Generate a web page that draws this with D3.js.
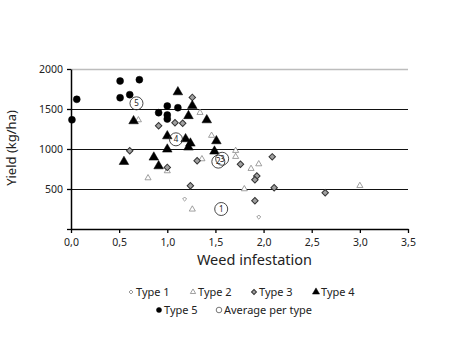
<!DOCTYPE html>
<html>
<head>
<meta charset="utf-8">
<script src="https://cdn.jsdelivr.net/npm/d3@7"></script>
<style>
  body { margin: 0; background: #fff; }
  text { font-family: "Noto Sans", "Open Sans", sans-serif; fill: #222; }
</style>
</head>
<body>
<div id="chart"></div>
<script>
// data: [weed infestation, yield]
var type1 = [[1.18, 375], [1.95, 150]];
var type2 = [[0.70, 1362], [0.80, 637], [1.00, 725], [1.34, 1454], [1.46, 1168], [1.36, 875],
             [1.71, 979], [1.71, 904], [1.95, 812], [1.87, 754], [1.80, 500], [3.00, 541], [1.26, 246]];
var type3 = [[0.61, 979], [0.91, 1291], [1.08, 1329], [1.16, 1321], [1.26, 1645], [1.00, 770],
             [1.31, 854], [1.76, 810], [2.09, 902], [1.93, 662], [1.91, 616], [1.24, 541],
             [2.11, 516], [1.91, 354], [2.64, 454]];
var type4 = [[0.65, 1350], [1.00, 1162], [1.00, 996], [0.55, 841], [0.86, 896], [0.91, 787],
             [1.11, 1712], [1.26, 1541], [1.22, 1414], [1.41, 1362], [1.19, 1125], [1.24, 1071],
             [1.22, 1021], [1.51, 1100], [1.49, 971]];
var type5 = [[0.01, 1365], [0.06, 1621], [0.51, 1850], [0.71, 1866], [0.51, 1641], [0.61, 1679],
             [0.91, 1454], [1.00, 1537], [1.00, 1425], [1.00, 1375], [1.11, 1516]];
var averages = [[1.56, 250, "1"], [1.53, 842, "2"], [1.57, 878, "3"], [1.09, 1121, "4"], [0.68, 1571, "5"]];
var xTicks = [0, 0.5, 1, 1.5, 2, 2.5, 3, 3.5];
var yTicks = [500, 1000, 1500, 2000];
var gridValues = [500, 1000, 1500, 2000];

var margin = {top: 69, right: 42, bottom: 109, left: 71},
    width = 450 - margin.left - margin.right,
    height = 338 - margin.top - margin.bottom;

var svg = d3.select("#chart")
  .append("svg")
    .attr("width", 450)
    .attr("height", 338)
  .append("g")
    .attr("transform", "translate(" + margin.left + "," + margin.top + ")");

var x = d3.scaleLinear().domain([0, 3.5]).range([0, width]);
var y = d3.scaleLinear().domain([0, 2000]).range([height, 0]);

// gridlines
svg.append("g")
  .selectAll("line")
  .data(gridValues)
  .enter()
  .append("line")
    .attr("x1", 0).attr("x2", width)
    .attr("y1", function (d) { return y(d) + 0.5; })
    .attr("y2", function (d) { return y(d) + 0.5; })
    .attr("stroke", function (d) { return d == 2000 ? "#bdbdbd" : "#111"; })
    .attr("stroke-width", function (d) { return d == 2000 ? 1.5 : 1; });

// axes
var xAxis = svg.append("g")
  .attr("transform", "translate(0," + height + ")")
  .call(d3.axisBottom(x).tickValues(xTicks).tickSize(4).tickSizeOuter(0)
    .tickFormat(function (d) { return d3.format(".1f")(d).replace(".", ","); }));
var yAxis = svg.append("g")
  .call(d3.axisLeft(y).tickValues([0].concat(yTicks)).tickSize(4).tickSizeOuter(0)
    .tickFormat(function (d) { return d == 0 ? "" : d; }));

[xAxis, yAxis].forEach(function (a) {
  a.select(".domain").attr("stroke", "#000").attr("stroke-width", 1.5);
  a.selectAll(".tick line").attr("stroke", "#000").attr("stroke-width", 1.3);
  a.selectAll(".tick text").style("font-size", "10.5px").attr("fill", "#222")
    .style("font-family", "'Noto Sans', 'Open Sans', sans-serif");
});
xAxis.selectAll(".tick text").attr("dy", "0.95em");
yAxis.selectAll(".tick text").attr("x", -8);

// markers: diamonds are rotated squares
var shape = function (type, size, rot) {
  return {d: d3.symbol().type(type).size(size)(), rot: rot};
};
var series = [
  {data: type1, m: shape(d3.symbolSquare, 8, 45), lm: shape(d3.symbolSquare, 8, 45), fill: "#fff", stroke: "#888", sw: 0.8},
  {data: type2, m: shape(d3.symbolTriangle, 16, 0), lm: shape(d3.symbolTriangle, 12, 0), fill: "#fff", stroke: "#888", sw: 0.8},
  {data: type3, m: shape(d3.symbolSquare, 21, 45), lm: shape(d3.symbolSquare, 12, 45), fill: "#a0a0a0", stroke: "#333", sw: 1},
  {data: type4, m: shape(d3.symbolTriangle, 40, 0), lm: shape(d3.symbolTriangle, 22, 0), fill: "#000", stroke: "#000", sw: 0.5},
  {data: type5, m: shape(d3.symbolCircle, 38, 0), lm: shape(d3.symbolCircle, 20, 0), fill: "#000", stroke: "#000", sw: 0.5}
];

series.forEach(function (s) {
  svg.append("g")
    .selectAll("path")
    .data(s.data)
    .enter()
    .append("path")
      .attr("d", s.m.d)
      .attr("transform", function (d) {
        return "translate(" + x(d[0]) + "," + y(d[1]) + ") rotate(" + s.m.rot + ")";
      })
      .attr("fill", s.fill)
      .attr("stroke", s.stroke)
      .attr("stroke-width", s.sw);
});

// averages per type
var avg = svg.append("g")
  .selectAll("g")
  .data(averages)
  .enter()
  .append("g")
    .attr("transform", function (d) { return "translate(" + x(d[0]) + "," + y(d[1]) + ")"; });
avg.append("circle").attr("r", 6.5).attr("fill", "none").attr("stroke", "#333").attr("stroke-width", 0.9);
avg.append("text")
  .attr("text-anchor", "middle")
  .attr("dy", "0.35em")
  .style("font-size", "8px")
  .attr("fill", "#555")
  .text(function (d) { return d[2]; });

// axis titles
svg.append("text")
  .attr("text-anchor", "middle")
  .attr("x", width / 2 + 15)
  .attr("y", height + 36)
  .style("font-size", "14.5px")
  .text("Weed infestation");

svg.append("text")
  .attr("text-anchor", "middle")
  .attr("transform", "translate(" + (-55) + "," + (y(1000) - 1) + ") rotate(-90)")
  .style("font-size", "13px")
  .text("Yield (kg/ha)");

// legend
var legendRows = [
  [{label: "Type 1", s: 0, x: 131}, {label: "Type 2", s: 1, x: 193}, {label: "Type 3", s: 2, x: 254}, {label: "Type 4", s: 3, x: 316}],
  [{label: "Type 5", s: 4, x: 159}, {label: "Average per type", s: -1, x: 219}]
];
var legend = d3.select("svg").append("g");
legendRows.forEach(function (row, i) {
  var ly = 292 + i * 18;
  row.forEach(function (item) {
    if (item.s >= 0) {
      var s = series[item.s];
      legend.append("path")
        .attr("d", s.lm.d)
        .attr("transform", "translate(" + item.x + "," + ly + ") rotate(" + s.lm.rot + ")")
        .attr("fill", s.fill).attr("stroke", s.stroke).attr("stroke-width", s.sw);
    } else {
      legend.append("circle").attr("cx", item.x).attr("cy", ly).attr("r", 2.8)
        .attr("fill", "none").attr("stroke", "#555").attr("stroke-width", 0.8);
    }
    legend.append("text")
      .attr("x", item.x + 5)
      .attr("y", ly)
      .attr("dy", "0.36em")
      .style("font-size", "11px")
      .text(item.label);
  });
});
</script>
</body>
</html>
